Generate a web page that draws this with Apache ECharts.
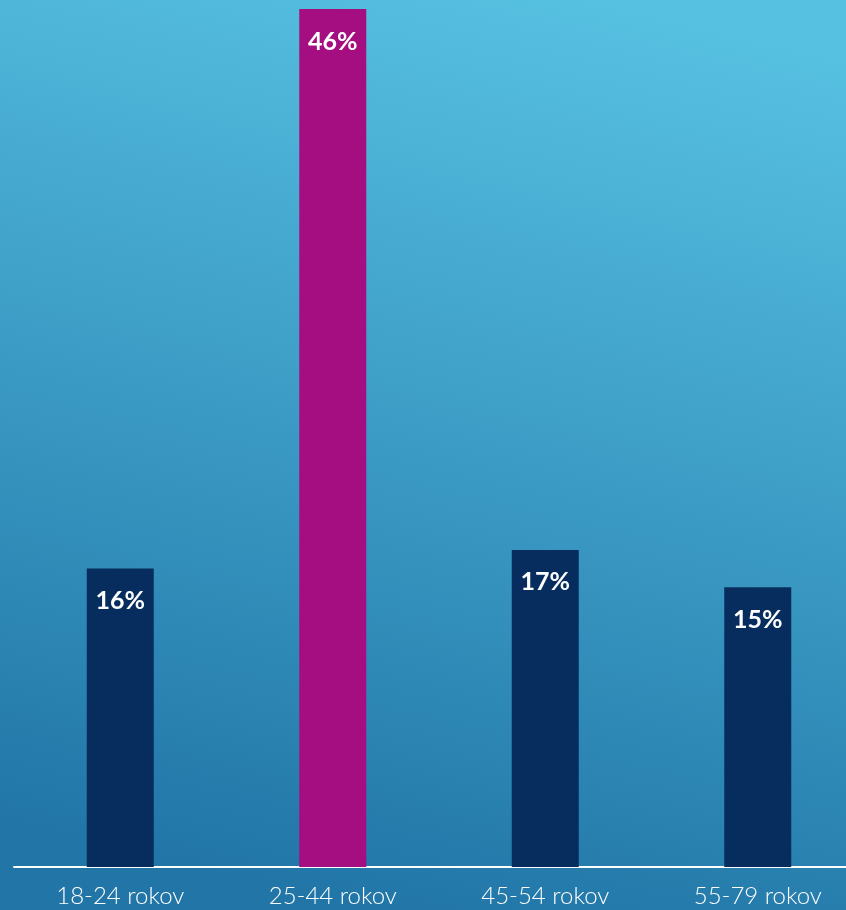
<!DOCTYPE html>
<html><head><meta charset="utf-8">
<script src="https://cdn.jsdelivr.net/npm/echarts@6/dist/echarts.min.js"></script>
<style>html,body{margin:0;padding:0;}#c{width:846px;height:910px;}</style>
</head><body><div id="c"></div>
<script>
var categories = ['18-24 rokov', '25-44 rokov', '45-54 rokov', '55-79 rokov'];
var values = [16, 46, 17, 15];
var highlightIndex = 1;

var chart = echarts.init(document.getElementById('c'));
chart.setOption({
  animation: false,
  backgroundColor: {
    type: 'linear', x: 0.7, y: 0, x2: 0.45, y2: 1,
    colorStops: [{offset: 0, color: '#57c1e2'}, {offset: 1, color: '#2176a7'}]
  },
  grid: {left: 14, right: -18, top: 9, bottom: 43, containLabel: false, outerBoundsMode: 'none'},
  xAxis: {
    type: 'category', data: categories,
    axisLine: {lineStyle: {color: '#ffffff', width: 2}},
    axisTick: {show: false},
    axisLabel: {color: '#ffffff', fontFamily: 'Lato', fontWeight: 300, fontSize: 24, margin: 17}
  },
  yAxis: {type: 'value', min: 0, max: 46, show: false, splitLine: {show: false}},
  series: [{
    type: 'bar', barWidth: 67,
    data: values.map(function (v, i) {
      return {value: v, itemStyle: {color: i === highlightIndex ? '#a50e80' : '#062d5e'}};
    }),
    label: {
      show: true, position: 'insideTop', distance: 20,
      formatter: '{c}%', color: '#ffffff', fontWeight: 'bold', fontSize: 25, fontFamily: 'Lato'
    }
  }]
});
</script></body></html>
